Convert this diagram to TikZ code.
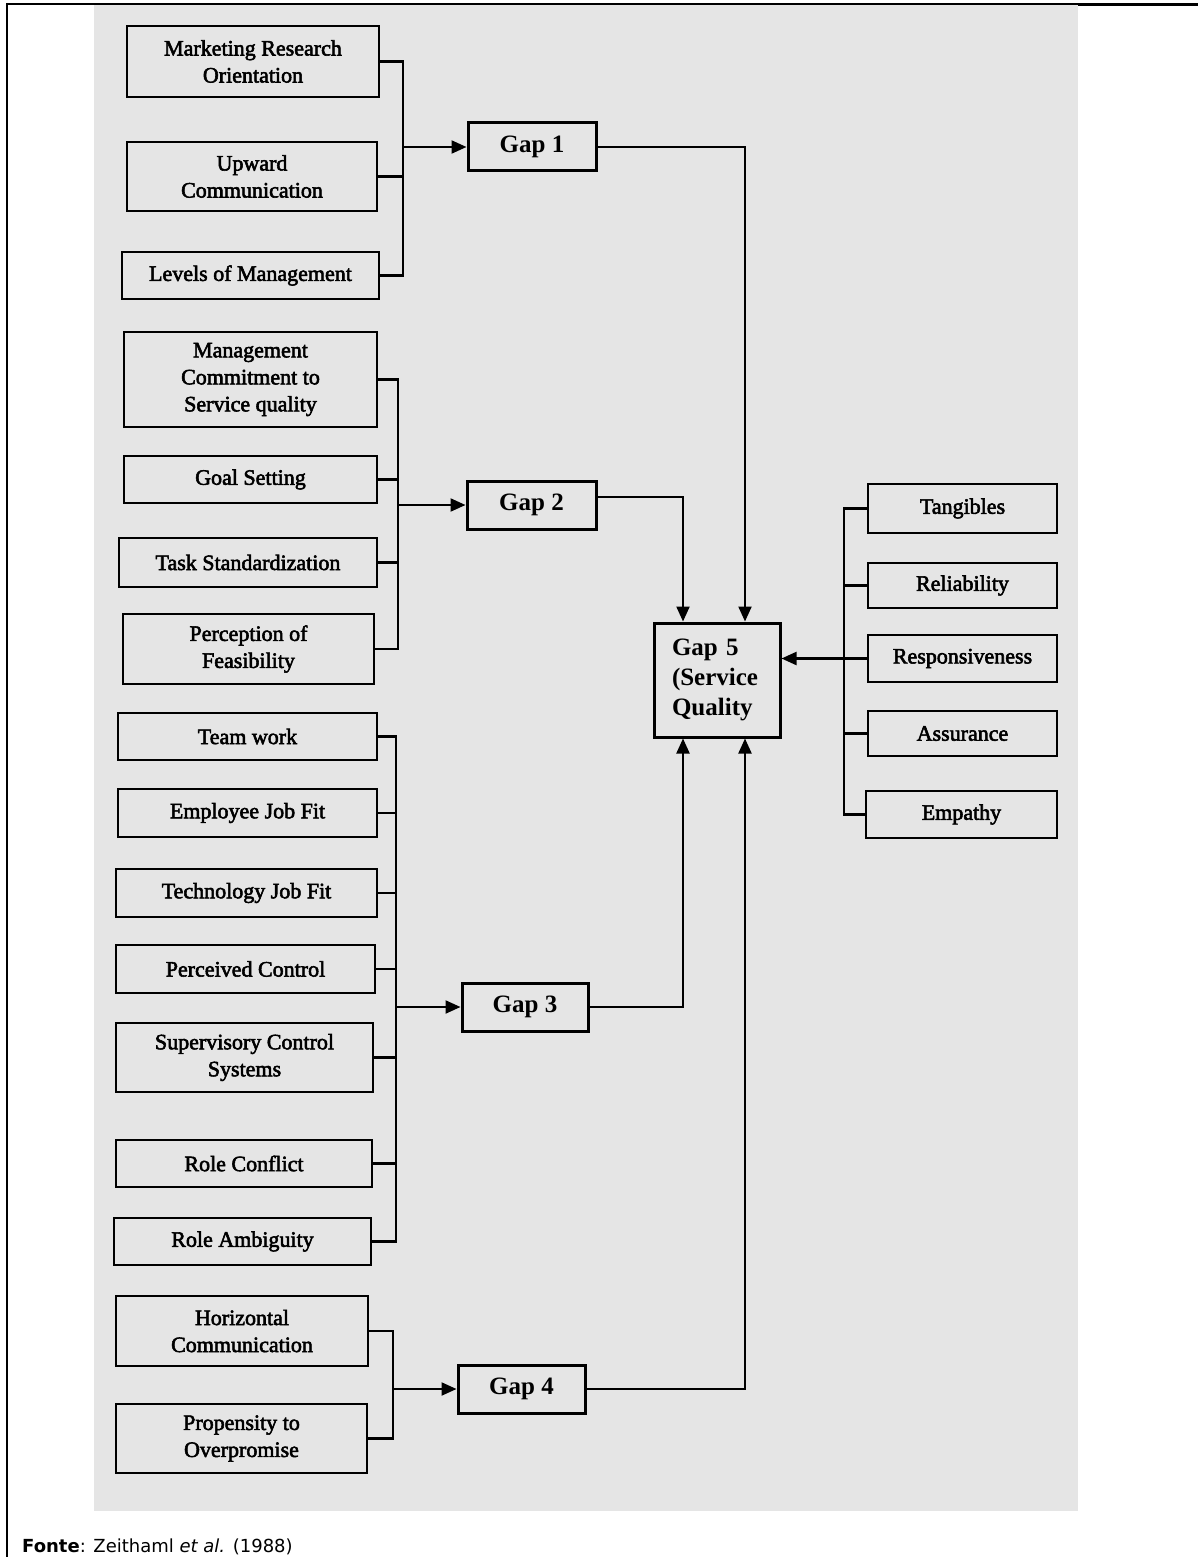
\documentclass[tikz,border=0pt]{standalone}
\usepackage{fontspec}
\setmainfont{Liberation Serif}
\newfontfamily\boxfont{Liberation Serif}[FakeBold=2.5]
\newfontfamily\srcfont{DejaVu Sans}
\usetikzlibrary{arrows.meta}
\definecolor{panel}{RGB}{229,229,229}
\tikzset{
  factor/.style={draw=black, line width=2.9pt, inner sep=0pt, align=center,
    font=\boxfont\fontsize{22}{27}\selectfont},
  gapbox/.style={draw=black, line width=3pt, inner sep=0pt, align=center,
    minimum height=48pt, font=\bfseries\fontsize{25}{30}\selectfont},
  conn/.style={draw=black, line width=2.2pt},
  arr/.style={conn, -{Triangle[length=15pt,width=13pt]}},
}
\begin{document}
\begin{tikzpicture}[x=1pt, y=-1pt]
\useasboundingbox (0,0) rectangle (1198,1557);
% page frame and grey panel
\fill[panel] (94,5) rectangle (1078,1511);
\draw[line width=2pt] (7,4) -- (1198,4);
\draw[line width=3.5pt] (1078,4.5) -- (1198,4.5);
\draw[line width=2.5pt] (7,3) -- (7,1557);

% ---- Gap 1 determinants
\node[factor, minimum width=252pt, minimum height=71pt] (mro) at (253,61.5) {Marketing Research\\Orientation};
\node[factor, minimum width=250pt, minimum height=69pt] (upc) at (252,176.5) {Upward\\Communication};
\node[factor, minimum width=257pt, minimum height=47pt] (lom) at (250.5,275.5) {Levels of Management};
\node[gapbox, minimum width=128pt] (gap1) at (532,147) {Gap 1};

% ---- Gap 2 determinants
\node[factor, minimum width=253pt, minimum height=95pt] (mcsq) at (250.5,379.5) {Management\\Commitment to\\Service quality};
\node[factor, minimum width=253pt, minimum height=47pt] (gs) at (250.5,479.5) {Goal Setting};
\node[factor, minimum width=258pt, minimum height=49pt] (ts) at (248,562.5) {Task Standardization};
\node[factor, minimum width=251pt, minimum height=70pt] (pof) at (248.5,649) {Perception of\\Feasibility};
\node[gapbox, minimum width=129pt] (gap2) at (531.5,505) {Gap 2};

% ---- Gap 3 determinants
\node[factor, minimum width=259pt, minimum height=47pt] (tw) at (247.5,736.5) {Team work};
\node[factor, minimum width=259pt, minimum height=48pt] (ejf) at (247.5,813) {Employee Job Fit};
\node[factor, minimum width=261pt, minimum height=48pt] (tjf) at (246.5,893) {Technology Job Fit};
\node[factor, minimum width=259pt, minimum height=48pt] (pc) at (245.5,969) {Perceived Control};
\node[factor, minimum width=257pt, minimum height=69pt] (scs) at (244.5,1057.5) {Supervisory Control\\Systems};
\node[factor, minimum width=256pt, minimum height=47pt] (rc) at (244,1163.5) {Role Conflict};
\node[factor, minimum width=257pt, minimum height=47pt] (ra) at (242.5,1241.5) {Role Ambiguity};
\node[gapbox, minimum width=126pt] (gap3) at (525,1007) {Gap 3};

% ---- Gap 4 determinants
\node[factor, minimum width=252pt, minimum height=70pt] (hc) at (242,1331) {Horizontal\\Communication};
\node[factor, minimum width=251pt, minimum height=69pt] (po) at (241.5,1438.5) {Propensity to\\Overpromise};
\node[gapbox, minimum width=127pt] (gap4) at (521.5,1389) {Gap 4};

% ---- Gap 5 and its dimensions
\node[draw=black, line width=3pt, inner xsep=18pt, inner ysep=0pt, text width=90pt,
  minimum height=114pt, align=left, font=\bfseries\fontsize{25}{30}\selectfont]
  (gap5) at (717,680) {Gap 5\\(Service\\Quality};
\node[factor, minimum width=189pt, minimum height=49pt] (tan) at (962.5,508.5) {Tangibles};
\node[factor, minimum width=189pt, minimum height=45pt] (rel) at (962.5,585.5) {Reliability};
\node[factor, minimum width=189pt, minimum height=47pt] (res) at (962.5,658.5) {Responsiveness};
\node[factor, minimum width=189pt, minimum height=45pt] (ass) at (962.5,733.5) {Assurance};
\node[factor, minimum width=191pt, minimum height=47pt] (emp) at (961.5,814.5) {Empathy};

% bus lines
\coordinate (bus1) at (403,0);
\coordinate (bus2) at (398,0);
\coordinate (bus3) at (396,0);
\coordinate (bus4) at (393,0);
\coordinate (busR) at (844,0);

% Gap 1 group
\draw[conn] (mro.east) -| (bus1 |- lom.east) -- (lom.east);
\draw[conn] (upc.east) -- (bus1 |- upc.east);
\draw[arr] (bus1 |- gap1.west) -- (gap1.west);

% Gap 2 group
\draw[conn] (mcsq.east) -| (bus2 |- pof.east) -- (pof.east);
\draw[conn] (gs.east) -- (bus2 |- gs.east);
\draw[conn] (ts.east) -- (bus2 |- ts.east);
\draw[arr] (bus2 |- gap2.west) -- (gap2.west);

% Gap 3 group
\draw[conn] (tw.east) -| (bus3 |- ra.east) -- (ra.east);
\foreach \n in {ejf,tjf,pc,scs,rc}
  \draw[conn] (\n.east) -- (bus3 |- \n.east);
\draw[arr] (bus3 |- gap3.west) -- (gap3.west);

% Gap 4 group
\draw[conn] (hc.east) -| (bus4 |- po.east) -- (po.east);
\draw[arr] (bus4 |- gap4.west) -- (gap4.west);

% SERVQUAL dimensions
\draw[conn] (tan.west) -| (busR |- emp.west) -- (emp.west);
\foreach \n in {rel,res,ass}
  \draw[conn] (\n.west) -- (busR |- \n.west);
\draw[arr] (busR |- res.west) -- (gap5.east |- res.west);

% Gaps 1-4 into Gap 5
\draw[arr] (gap1.east) -| ([xshift=28pt]gap5.north);
\draw[arr] ([yshift=8pt]gap2.east) -| ([xshift=-34pt]gap5.north);
\draw[arr] (gap3.east) -| ([xshift=-34pt]gap5.south);
\draw[arr] (gap4.east) -| ([xshift=28pt]gap5.south);

% source line
\node[anchor=base west, inner sep=0pt, font=\srcfont\fontsize{18}{20}\selectfont]
  (src) at (22,1552) {\textbf{Fonte}: Zeithaml \textit{et al.} (1988)};
\end{tikzpicture}
\end{document}
